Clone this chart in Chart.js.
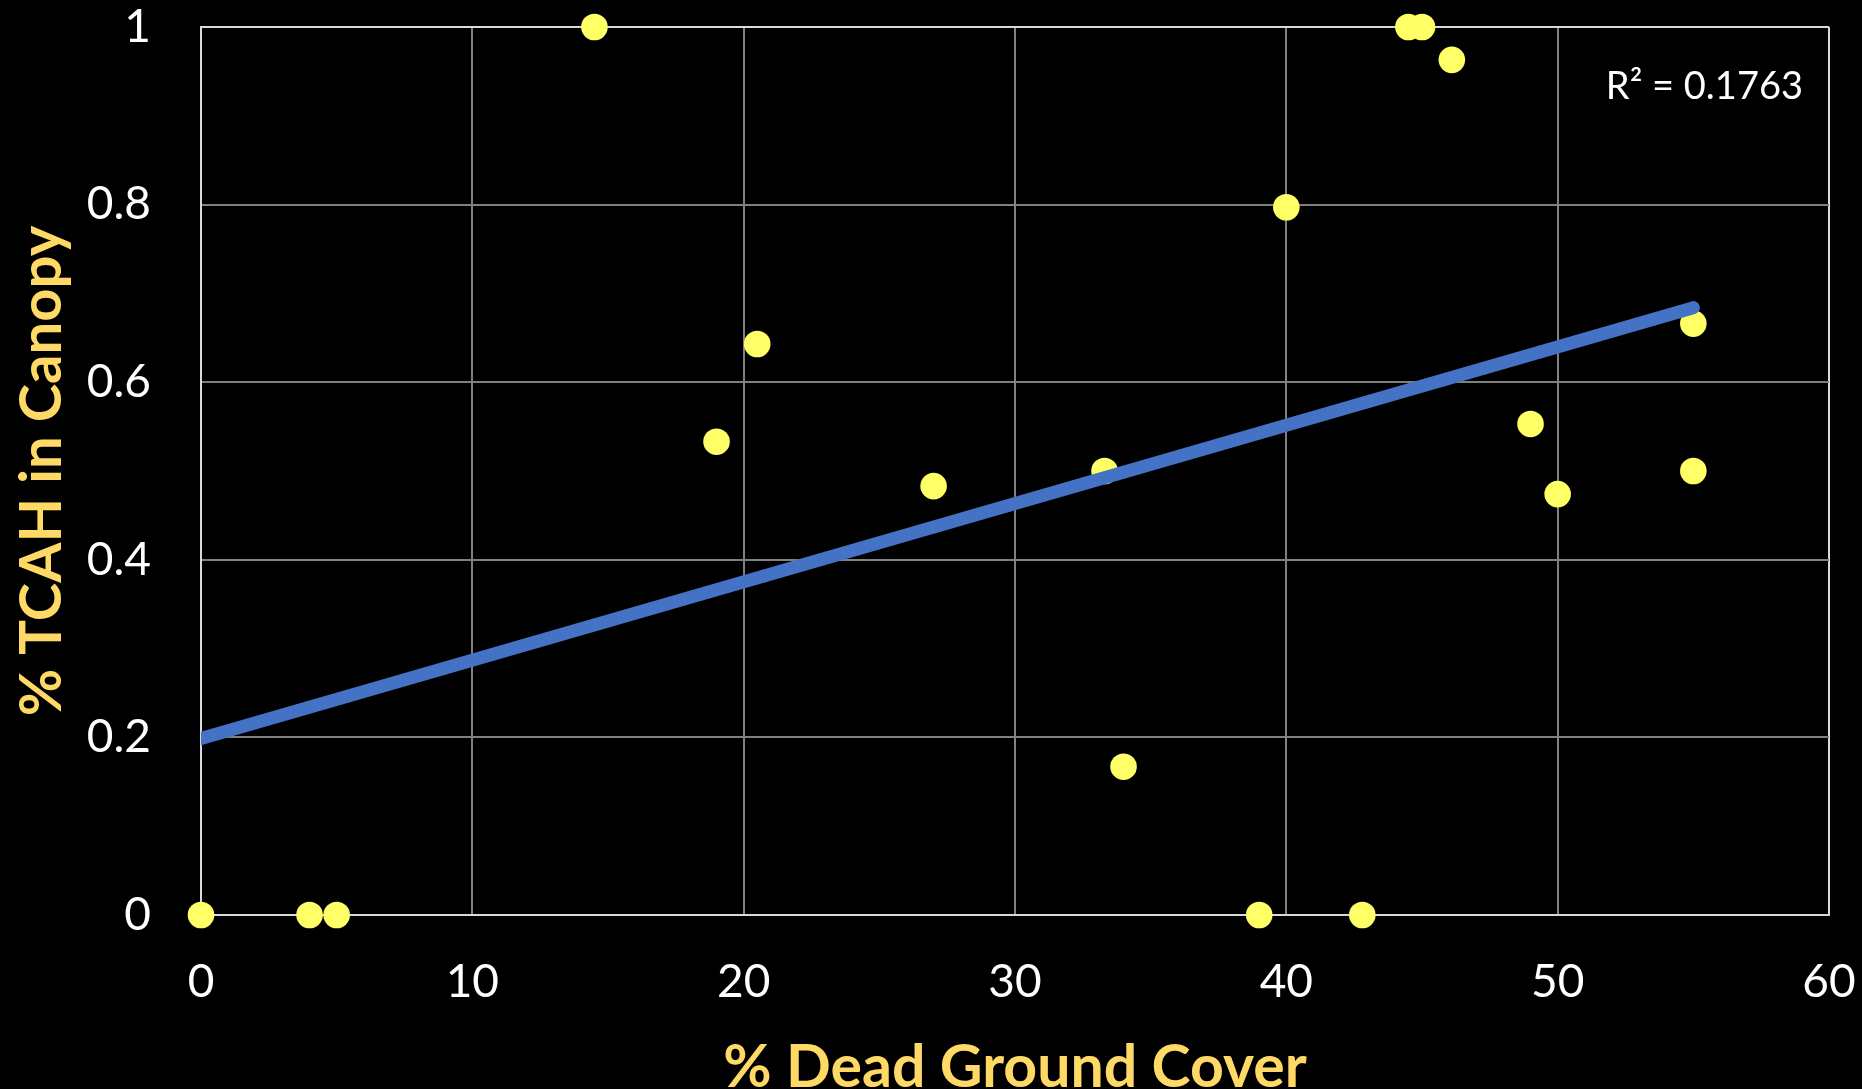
<!DOCTYPE html>
<html>
<head>
<meta charset="utf-8">
<title>TCAH vs dead ground cover</title>
<script src="https://cdn.jsdelivr.net/npm/chart.js@4.4.1/dist/chart.umd.min.js"></script>
<style>
	html, body { margin: 0; padding: 0; background: #000000; }
	#chart_box { width: 1862px; height: 1089px; }
</style>
</head>
<body>
<div id="chart_box"><canvas id="tcah_chart" width="1862" height="1089"></canvas></div>
<script>
// values
var dead_ground_cover = [0, 4, 5, 14.5, 19, 20.5, 27, 33.3, 34, 39, 40, 42.8, 44.5, 45, 46.1, 49, 50, 55, 55];
var tcah_in_canopy    = [0, 0, 0, 1, 0.533, 0.643, 0.483, 0.5, 0.167, 0, 0.797, 0, 1, 1, 0.963, 0.553, 0.474, 0.666, 0.5];
var x_ticks = [0, 10, 20, 30, 40, 50, 60];
var y_ticks = [0, 0.2, 0.4, 0.6, 0.8, 1];
var r2_label = 'R\u00b2 = 0.1763';
var x_title = '% Dead Ground Cover';
var y_title = '% TCAH in Canopy';

var title_color = '#FFD966';
var point_color = '#FFFF66';
var trend_color = '#4472C4';
var font_name = 'Lato';

// least squares line, drawn over the x range of the data
function tcah_trend_points()
{
	var n = dead_ground_cover.length;
	var sx = 0, sy = 0, sxx = 0, sxy = 0;
	for (var i = 0; i < n; i++)
	{
		sx += dead_ground_cover[i];
		sy += tcah_in_canopy[i];
		sxx += dead_ground_cover[i] * dead_ground_cover[i];
		sxy += dead_ground_cover[i] * tcah_in_canopy[i];
	}
	var slope = (n * sxy - sx * sy) / (n * sxx - sx * sx);
	var intercept = (sy - slope * sx) / n;
	var x_min = Math.min.apply(null, dead_ground_cover);
	var x_max = Math.max.apply(null, dead_ground_cover);
	return [{x: x_min, y: intercept + slope * x_min}, {x: x_max, y: intercept + slope * x_max}];
}

var scatter_points = [];
for (var i = 0; i < dead_ground_cover.length; i++)
	scatter_points.push({x: dead_ground_cover[i], y: tcah_in_canopy[i]});

// R squared text in the top right corner of the plot
var r2_plugin = {
	id: 'r2_label',
	afterDatasetsDraw: function(chart)
	{
		var ctx = chart.ctx;
		var area = chart.chartArea;
		ctx.save();
		ctx.font = '38px ' + font_name;
		ctx.fillStyle = '#FFFFFF';
		ctx.textAlign = 'right';
		ctx.textBaseline = 'alphabetic';
		ctx.fillText(r2_label, area.right - 26, area.top + 72);
		ctx.restore();
	}
};

function grid_color(context)
{
	if (context.tick && (context.tick.value == 60 || context.tick.value == 1))
		return '#D9D9D9';
	return '#808080';
}
function tick_text(value)
{
	return String(Math.round(value * 10) / 10);
}

var ctx = document.getElementById('tcah_chart').getContext('2d');
var tcah_chart = new Chart(ctx, {
	type: 'scatter',
	data: {
		datasets: [
			{
				type: 'line',
				data: tcah_trend_points(),
				borderColor: trend_color,
				borderWidth: 13,
				borderCapStyle: 'round',
				pointRadius: 0,
				fill: false,
				order: 0
			},
			{
				data: scatter_points,
				backgroundColor: point_color,
				borderWidth: 0,
				pointRadius: 13.3,
				clip: false,
				order: 1
			}
		]
	},
	options: {
		responsive: false,
		animation: false,
		layout: { padding: { left: 0, right: 33, top: 27, bottom: 0 } },
		plugins: {
			legend: { display: false },
			tooltip: { enabled: false }
		},
		scales: {
			x: {
				type: 'linear',
				min: 0,
				max: 60,
				afterBuildTicks: function(scale) { scale.ticks = x_ticks.map(function(v) { return {value: v}; }); },
				afterFit: function(scale) { scale.height = 174; scale.paddingLeft = 0; scale.paddingRight = 0; },
				grid: { color: grid_color, lineWidth: 2, drawTicks: false },
				border: { color: '#D9D9D9', width: 2 },
				ticks: { color: '#FFFFFF', padding: 40, callback: tick_text, font: { family: font_name, size: 46 } },
				title: {
					display: true,
					text: x_title,
					color: title_color,
					padding: { top: 0, bottom: -8 },
					font: { family: font_name, size: 59, weight: 'bold', lineHeight: 1 }
				}
			},
			y: {
				type: 'linear',
				min: 0,
				max: 1,
				afterBuildTicks: function(scale) { scale.ticks = y_ticks.map(function(v) { return {value: v}; }); },
				afterFit: function(scale) { scale.width = 201; scale.paddingTop = 0; scale.paddingBottom = 0; },
				grid: { color: grid_color, lineWidth: 2, drawTicks: false },
				border: { color: '#D9D9D9', width: 2 },
				ticks: { color: '#FFFFFF', padding: 50, callback: tick_text, font: { family: font_name, size: 46 } },
				title: {
					display: true,
					text: y_title,
					color: title_color,
					padding: { top: 13, bottom: 0 },
					font: { family: font_name, size: 58, weight: 'bold', lineHeight: 1 }
				}
			}
		}
	},
	plugins: [r2_plugin]
});
</script>
</body>
</html>
